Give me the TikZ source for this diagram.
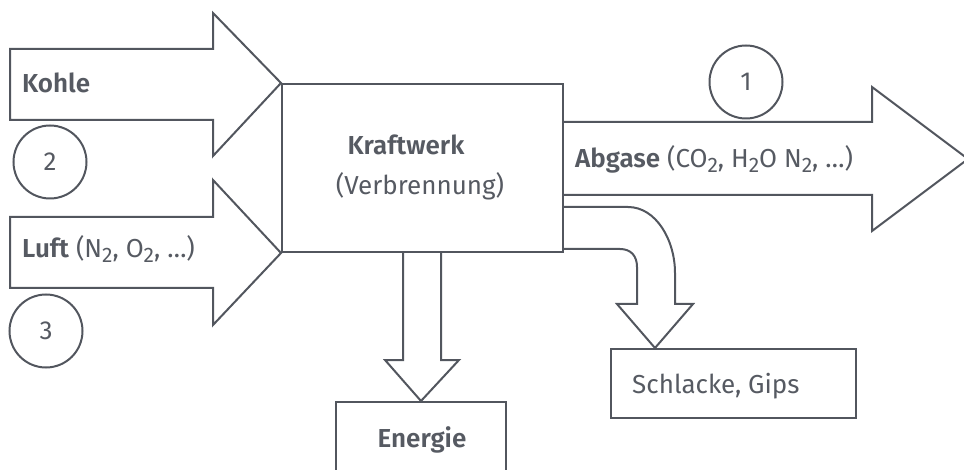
\documentclass[tikz,border=0pt]{standalone}
\usepackage{fontspec}
\setmainfont{Fira Sans}[BoldFont={* SemiBold}]
\definecolor{linegrey}{RGB}{82,86,94}
\definecolor{textgrey}{RGB}{86,90,98}
\newcommand{\tief}[1]{\raisebox{-5pt}{\fontsize{21}{24}\selectfont #1}}
\tikzset{
	flow/.style={draw=linegrey, line width=2pt, line join=miter},
	box/.style={draw=linegrey, line width=2pt, inner sep=0pt},
	num/.style={circle, draw=linegrey, line width=2pt, minimum size=73pt, inner sep=0pt, text=textgrey, font=\fontsize{26}{30}\selectfont},
	lbl/.style={text=textgrey, inner sep=0pt, font=\fontsize{26}{30}\selectfont}
}
\begin{document}
\begin{tikzpicture}[x=1pt, y=-1pt]
	\useasboundingbox (0,0) rectangle (964,470);
	\clip (0,0) rectangle (964,470);
	
	\node[box, minimum width=281pt, minimum height=168pt] (kw) at (422.5,168) {}; % kraftwerk
	\node[box, minimum width=245pt, minimum height=69pt] (sg) at (733,383.5) {}; % schlacke
	\node[box, minimum width=170pt, minimum height=120pt, anchor=north] (en) at (421,401) {}; % energie
	
	\draw[flow] (10,49) -- (213,49) -- (213,13) -- (kw.north west) -- (213,156) -- (213,120) -- (10,120) -- cycle; % kohle
	\draw[flow] (10,217) -- (213,217) -- (213,180) -- (kw.south west) -- (213,325) -- (213,288) -- (10,288) -- cycle; % luft
	\draw[flow] (563,122) -- (872,122) -- (872,87) -- (968,159) -- (872,231) -- (872,195) -- (563,195); % abgase
	\draw[flow] (403,252) -- (403,360) -- (385,360) -- (en.north) -- (459,360) -- (441,360) -- (441,252); % energie
	\draw[flow] (563,207) -- (628,207) .. controls (656,207) and (675,240) .. (675,273) -- (675,304) -- (693,304)
		-- (655,348) -- (617,304) -- (637,304) -- (637,267) .. controls (637,256) and (631,249) .. (620,249) -- (563,249); % schlacke
	
	\node[num] (n1) at (746,82) {1};
	\node[num] (n2) at (50,162) {2};
	\node[num] (n3) at (46,331) {3};
	
	\node[lbl, anchor=base west] (kohle) at (22,93) {\textbf{Kohle}};
	\node[lbl, anchor=base west] (luft) at (22,258) {\textbf{Luft} (N\tief{2}, O\tief{2}, …)};
	\node[lbl, anchor=base] (kw1) at (406,155) {\textbf{Kraftwerk}};
	\node[lbl, anchor=base] (kw2) at (420,195) {(Verbrennung)};
	\node[lbl, anchor=base west] (abgase) at (575,168) {\textbf{Abgase} (CO\tief{2}, H\tief{2}O N\tief{2}, …)};
	\node[lbl, anchor=base west] (schlacke) at (632,393) {Schlacke, Gips};
	\node[lbl, anchor=base] (energie) at (422,447) {\textbf{Energie}};
\end{tikzpicture}
\end{document}
